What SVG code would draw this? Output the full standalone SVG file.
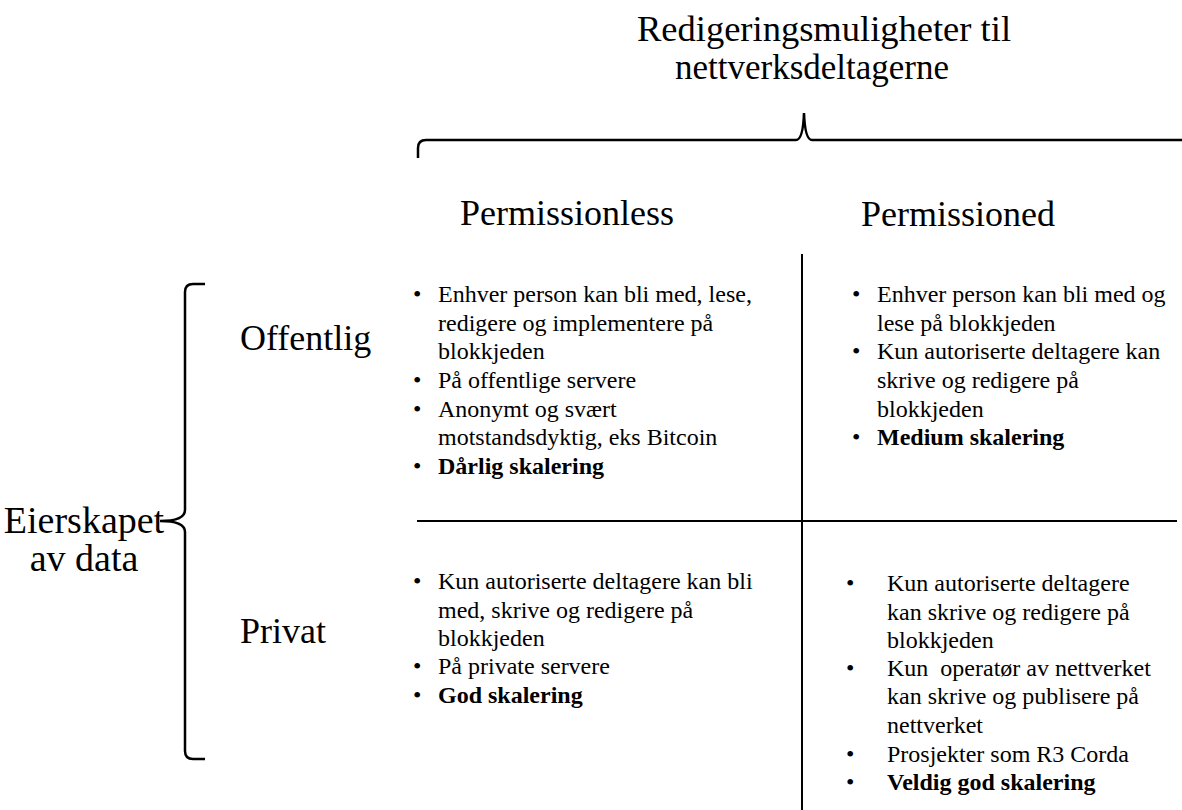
<svg xmlns="http://www.w3.org/2000/svg" width="1182" height="810" viewBox="0 0 1182 810">
<style>
text{font-family:"Liberation Serif","Times New Roman",serif;fill:#000}
.big{font-size:36px}
.side{font-size:38px}
.t1{font-size:36.5px}
.t2{font-size:35px}
.b{font-size:24px}
.bold{font-weight:bold}
.ln{stroke:#000;stroke-width:2;fill:none}
.br{stroke:#000;stroke-width:2.5;fill:none}
</style>
<rect width="1182" height="810" fill="#fff"/>
<g id="title">
<text class="t1" x="824" y="41" text-anchor="middle">Redigeringsmuligheter til</text>
<text class="t2" x="812" y="79" text-anchor="middle">nettverksdeltagerne</text>
</g>
<g id="connectors">
<path class="br" d="M418,158 L418,148 Q418,140 426,140 L796,140 Q803,140 804,113 Q805,140 812,140 L1182,140"/>
<path class="br" d="M205,284 L193,284 Q185,284 185,292 L185,510 Q185,521 160,521 Q185,521 185,532 L185,751 Q185,759 193,759 L205,759"/>
<line class="ln" x1="802" y1="254" x2="802" y2="810"/>
<line class="ln" x1="417" y1="521" x2="1177" y2="521"/>
</g>
<g id="col-permissionless"><text class="big" x="460" y="225">Permissionless</text></g>
<g id="col-permissioned"><text class="big" x="861" y="226">Permissioned</text></g>
<g id="row-offentlig"><text class="big" x="240" y="350">Offentlig</text></g>
<g id="row-privat"><text class="big" x="240" y="643">Privat</text></g>
<g id="eierskapet">
<text class="side" x="84" y="533" text-anchor="middle">Eierskapet</text>
<text class="side" x="84" y="571" text-anchor="middle">av data</text>
</g>
<g id="cell-offentlig-permissionless">
<text class="b" x="413" y="302">•</text>
<text class="b" x="438" y="302">Enhver person kan bli med, lese,</text>
<text class="b" x="438" y="330.5">redigere og implementere på</text>
<text class="b" x="438" y="359">blokkjeden</text>
<text class="b" x="413" y="388">•</text>
<text class="b" x="438" y="388">På offentlige servere</text>
<text class="b" x="413" y="416.5">•</text>
<text class="b" x="438" y="416.5">Anonymt og svært</text>
<text class="b" x="438" y="445">motstandsdyktig, eks Bitcoin</text>
<text class="b" x="413" y="474">•</text>
<text class="b bold" x="438" y="474">Dårlig skalering</text>
</g>
<g id="cell-offentlig-permissioned">
<text class="b" x="852" y="302">•</text>
<text class="b" x="877" y="302">Enhver person kan bli med og</text>
<text class="b" x="877" y="330.5">lese på blokkjeden</text>
<text class="b" x="852" y="359">•</text>
<text class="b" x="877" y="359">Kun autoriserte deltagere kan</text>
<text class="b" x="877" y="388">skrive og redigere på</text>
<text class="b" x="877" y="416.5">blokkjeden</text>
<text class="b" x="852" y="445">•</text>
<text class="b bold" x="877" y="445">Medium skalering</text>
</g>
<g id="cell-privat-permissionless">
<text class="b" x="413" y="589">•</text>
<text class="b" x="438" y="589">Kun autoriserte deltagere kan bli</text>
<text class="b" x="438" y="617.5">med, skrive og redigere på</text>
<text class="b" x="438" y="646">blokkjeden</text>
<text class="b" x="413" y="674">•</text>
<text class="b" x="438" y="674">På private servere</text>
<text class="b" x="413" y="702.5">•</text>
<text class="b bold" x="438" y="702.5">God skalering</text>
</g>
<g id="cell-privat-permissioned">
<text class="b" x="846" y="591">•</text>
<text class="b" x="887" y="591">Kun autoriserte deltagere</text>
<text class="b" x="887" y="619.5">kan skrive og redigere på</text>
<text class="b" x="887" y="647.5">blokkjeden</text>
<text class="b" x="846" y="676">•</text>
<text class="b" x="887" y="676" xml:space="preserve">Kun  operatør av nettverket</text>
<text class="b" x="887" y="704">kan skrive og publisere på</text>
<text class="b" x="887" y="732.5">nettverket</text>
<text class="b" x="846" y="762">•</text>
<text class="b" x="887" y="762">Prosjekter som R3 Corda</text>
<text class="b" x="846" y="790">•</text>
<text class="b bold" x="887" y="790">Veldig god skalering</text>
</g>
</svg>
